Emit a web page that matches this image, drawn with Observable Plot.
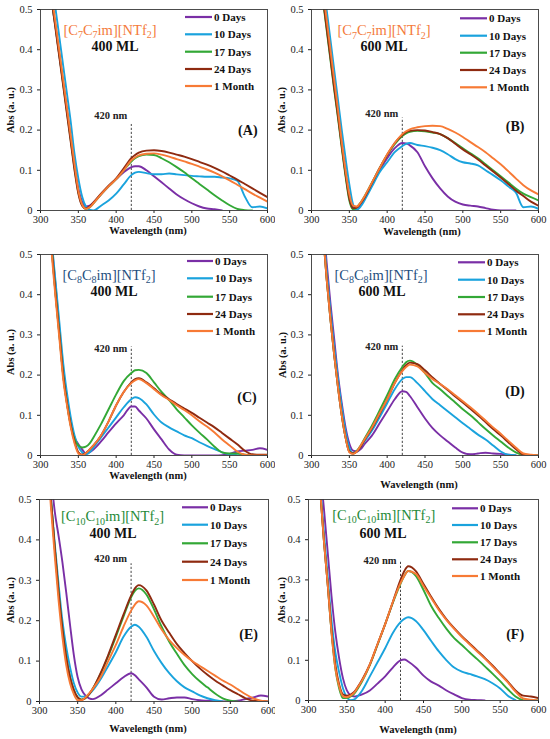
<!DOCTYPE html>
<html><head><meta charset="utf-8">
<script src="https://cdn.jsdelivr.net/npm/d3@7"></script>
<script src="https://cdn.jsdelivr.net/npm/@observablehq/plot@0.6"></script>
<style>
body{margin:0;background:#fff;}
#wrap{position:relative;width:550px;height:739px;overflow:hidden;}
.panel{position:absolute;}
</style></head><body><div id="wrap"></div>
<script>
// ---------- data ----------
const wl = [310,315,320,325,330,335,340,345,350,355,360,365,370,380,390,400,410,420,425,430,440,450,460,470,480,490,500,510,520,530,540,550,560,570,580,590,600];
const seriesNames = ["0 Days","10 Days","17 Days","24 Days","1 Month"];
const xTicks = [300,350,400,450,500,550,600];
const yTicks = [0,0.1,0.2,0.3,0.4,0.5];

// Panel A: [C7C7im][NTf2] 400 ML
const A_d0 = [0.6,0.52,0.455,0.385,0.318,0.25,0.18,0.112,0.055,0.022,0.01,0.012,0.02, 0.04,0.06,0.078,0.095,0.108, 0.11,0.11, 0.1,0.085,0.07,0.055,0.04,0.028,0.018,0.01,0.005,0.003,0,null,null,null,null,null,null];
const A_d10 = [0.65,0.56,0.5,0.43,0.36,0.29,0.22,0.14,0.08,0.035,0.01,0.002,0, 0.012,0.025,0.042,0.065,0.088, 0.094,0.096, 0.093,0.09,0.09,0.092,0.09,0.088,0.086,0.085,0.084,0.084,0.082,0.08,0.074,0.035,0.008,0.01,0.005];
const A_d17 = [0.6,0.52,0.455,0.385,0.315,0.245,0.175,0.105,0.045,0.014,0.004,0.008,0.018, 0.04,0.06,0.078,0.1,0.122, 0.13,0.135, 0.139,0.138,0.13,0.12,0.108,0.095,0.08,0.066,0.052,0.038,0.025,0.013,0.004,0.001,0,null,null];
const A_d24 = [0.6,0.52,0.45,0.38,0.31,0.24,0.17,0.1,0.042,0.012,0.005,0.01,0.02, 0.042,0.062,0.08,0.105,0.13, 0.138,0.144, 0.149,0.15,0.148,0.144,0.139,0.134,0.128,0.121,0.114,0.106,0.097,0.087,0.077,0.066,0.055,0.044,0.033];
const A_m1 = [0.62,0.535,0.465,0.395,0.325,0.255,0.185,0.115,0.05,0.015,0.004,0.008,0.018, 0.04,0.06,0.078,0.1,0.125, 0.132,0.137, 0.141,0.142,0.139,0.134,0.128,0.122,0.116,0.109,0.102,0.094,0.085,0.075,0.064,0.053,0.042,0.032,0.022];

// Panel B: [C7C7im][NTf2] 600 ML
const B_d0 = [0.6,0.53,0.46,0.385,0.31,0.24,0.165,0.095,0.035,0.01,0.006,0.015,0.03, 0.065,0.1,0.13,0.155,0.168, 0.167,0.162, 0.145,0.11,0.08,0.055,0.035,0.022,0.015,0.012,0.01,0.006,0.002,0,0,0,null,null,null];
const B_d10 = [0.65,0.57,0.5,0.425,0.35,0.275,0.2,0.13,0.065,0.015,0.002,0.01,0.025, 0.06,0.095,0.12,0.145,0.16, 0.166,0.168, 0.163,0.16,0.156,0.15,0.14,0.128,0.12,0.117,0.112,0.1,0.088,0.075,0.06,0.045,0.008,0.01,0.004];
const B_d17 = [0.6,0.525,0.45,0.375,0.3,0.23,0.155,0.085,0.025,0.003,0.008,0.02,0.035, 0.07,0.105,0.138,0.165,0.185, 0.192,0.196, 0.198,0.197,0.194,0.19,0.18,0.168,0.155,0.142,0.13,0.115,0.1,0.085,0.07,0.055,0.042,0.033,0.025];
const B_d24 = [0.61,0.53,0.455,0.38,0.305,0.235,0.16,0.09,0.03,0.006,0.008,0.018,0.032, 0.068,0.105,0.138,0.168,0.188, 0.195,0.198, 0.2,0.199,0.195,0.19,0.18,0.166,0.152,0.14,0.127,0.112,0.097,0.082,0.066,0.05,0.036,0.022,0.012];
const B_m1 = [0.63,0.55,0.475,0.4,0.325,0.25,0.17,0.1,0.04,0.012,0.01,0.02,0.035, 0.07,0.105,0.14,0.168,0.19, 0.197,0.202, 0.207,0.21,0.211,0.21,0.203,0.194,0.183,0.17,0.158,0.145,0.13,0.115,0.098,0.08,0.063,0.05,0.04];

// Panel C: [C8C8im][NTf2] 400 ML
const C_d0 = [0.62,0.52,0.42,0.31,0.21,0.14,0.08,0.045,0.028,0.015,0.005,0.008,0.015, 0.035,0.058,0.08,0.1,0.122, 0.122,0.112, 0.092,0.065,0.04,0.015,0.002,0,0,0,0,0,0.001,0.004,0.01,0.012,0.014,0.018,0.014];
const C_d10 = [0.64,0.53,0.43,0.33,0.23,0.155,0.095,0.05,0.022,0.008,0.003,0.008,0.02, 0.045,0.07,0.095,0.12,0.14, 0.145,0.143, 0.127,0.102,0.082,0.07,0.06,0.05,0.043,0.033,0.024,0.016,0.008,0.003,0.001,0,null,null,null];
const C_d17 = [0.64,0.51,0.4,0.3,0.2,0.13,0.075,0.04,0.025,0.02,0.022,0.03,0.045, 0.078,0.115,0.152,0.185,0.205, 0.212,0.213, 0.205,0.182,0.158,0.138,0.115,0.095,0.075,0.057,0.04,0.022,0.008,0.005,0.005,0.002,0,null,null];
const C_d24 = [0.64,0.51,0.4,0.3,0.2,0.13,0.075,0.035,0.008,0.002,0.006,0.015,0.025, 0.05,0.085,0.125,0.158,0.182, 0.19,0.192, 0.182,0.167,0.152,0.14,0.128,0.117,0.106,0.094,0.082,0.07,0.056,0.042,0.028,0.012,0.003,0.002,0.002];
const C_m1 = [0.65,0.5,0.39,0.29,0.19,0.125,0.07,0.03,0.005,0.001,0.006,0.015,0.025, 0.05,0.085,0.125,0.158,0.18, 0.187,0.19, 0.18,0.165,0.15,0.138,0.125,0.113,0.1,0.085,0.072,0.057,0.04,0.025,0.01,0.002,0,0,0];

// Panel D: [C8C8im][NTf2] 600 ML
const D_d0 = [0.72,0.6,0.48,0.38,0.29,0.2,0.13,0.07,0.03,0.012,0.01,0.016,0.028, 0.05,0.08,0.11,0.14,0.16, 0.158,0.148, 0.12,0.092,0.068,0.05,0.035,0.02,0.007,0.003,0.005,0.007,0.005,0.004,0.002,0,null,null,null];
const D_d10 = [0.72,0.58,0.46,0.36,0.27,0.19,0.12,0.06,0.02,0.006,0.01,0.022,0.035, 0.062,0.095,0.13,0.165,0.19, 0.195,0.195, 0.18,0.16,0.14,0.125,0.11,0.095,0.08,0.066,0.052,0.04,0.025,0.01,0.002,0.001,null,null,null];
const D_d17 = [0.7,0.56,0.44,0.34,0.25,0.17,0.1,0.045,0.01,0.005,0.012,0.025,0.042, 0.075,0.112,0.15,0.19,0.22, 0.232,0.236, 0.226,0.205,0.18,0.165,0.148,0.132,0.115,0.1,0.083,0.066,0.05,0.035,0.02,0.008,0.001,0,0];
const D_d24 = [0.7,0.56,0.44,0.34,0.25,0.17,0.1,0.045,0.01,0.005,0.01,0.022,0.038, 0.068,0.103,0.14,0.18,0.212, 0.225,0.231, 0.227,0.212,0.194,0.178,0.163,0.147,0.132,0.116,0.1,0.083,0.066,0.05,0.033,0.016,0.002,0,0];
const D_m1 = [0.7,0.56,0.44,0.34,0.25,0.17,0.1,0.045,0.008,0.004,0.01,0.025,0.04, 0.07,0.105,0.14,0.18,0.21, 0.22,0.226, 0.222,0.205,0.19,0.178,0.165,0.15,0.135,0.12,0.104,0.087,0.07,0.054,0.037,0.02,0.005,0.002,0];

// Panel E: [C10C10im][NTf2] 400 ML
const E_d0 = [0.66,0.56,0.47,0.41,0.345,0.27,0.19,0.115,0.06,0.03,0.015,0.008,0.006, 0.015,0.03,0.045,0.06,0.07, 0.065,0.055, 0.035,0.012,0.005,0.008,0.01,0.01,0.006,0.003,0.002,0.001,0,0,0.002,0.006,0.01,0.015,0.012];
const E_d10 = [0.62,0.5,0.39,0.29,0.2,0.135,0.085,0.045,0.022,0.012,0.012,0.018,0.028, 0.055,0.088,0.122,0.16,0.185, 0.19,0.185, 0.16,0.125,0.095,0.07,0.05,0.035,0.025,0.015,0.008,0.003,0,null,null,null,null,null,null];
const E_d17 = [0.6,0.5,0.38,0.27,0.18,0.11,0.06,0.028,0.01,0.005,0.008,0.018,0.032, 0.068,0.112,0.16,0.21,0.258, 0.274,0.28, 0.265,0.228,0.185,0.148,0.118,0.09,0.068,0.05,0.035,0.02,0.008,0.002,0,null,null,null,null];
const E_d24 = [0.6,0.5,0.38,0.27,0.18,0.11,0.06,0.028,0.01,0.004,0.008,0.018,0.032, 0.07,0.115,0.165,0.215,0.262, 0.28,0.288, 0.275,0.24,0.2,0.17,0.142,0.12,0.1,0.082,0.066,0.052,0.04,0.028,0.018,0.008,0.002,0.001,0];
const E_m1 = [0.62,0.48,0.36,0.25,0.16,0.09,0.045,0.018,0.003,0.003,0.01,0.02,0.032, 0.06,0.1,0.14,0.185,0.225, 0.24,0.248, 0.238,0.21,0.178,0.152,0.132,0.115,0.1,0.088,0.076,0.064,0.052,0.042,0.03,0.018,0.008,0.002,0];

// Panel F: [C10C10im][NTf2] 600 ML
const F_d0 = [0.7,0.58,0.48,0.37,0.26,0.17,0.105,0.055,0.025,0.013,0.01,0.012,0.015, 0.025,0.042,0.06,0.082,0.1, 0.102,0.097, 0.082,0.062,0.047,0.037,0.025,0.015,0.006,0.002,0.001,0,null,null,null,null,null,null,null];
const F_d10 = [0.66,0.54,0.42,0.31,0.2,0.12,0.07,0.03,0.008,0.001,0.003,0.012,0.025, 0.06,0.095,0.13,0.168,0.195, 0.203,0.207, 0.198,0.175,0.148,0.122,0.1,0.082,0.072,0.066,0.06,0.053,0.043,0.03,0.012,0.001,null,null,null];
const F_d17 = [0.65,0.53,0.4,0.29,0.17,0.08,0.03,0.006,0.006,0.01,0.018,0.032,0.048, 0.088,0.138,0.19,0.243,0.29, 0.31,0.322, 0.31,0.275,0.235,0.205,0.178,0.155,0.138,0.12,0.103,0.085,0.067,0.048,0.028,0.01,0.001,0,0];
const F_d24 = [0.65,0.53,0.4,0.29,0.175,0.09,0.04,0.015,0.012,0.015,0.022,0.036,0.052, 0.09,0.14,0.19,0.245,0.3, 0.322,0.334, 0.322,0.29,0.258,0.228,0.202,0.18,0.16,0.142,0.124,0.106,0.087,0.067,0.047,0.025,0.012,0.01,0.006];
const F_m1 = [0.65,0.53,0.4,0.29,0.17,0.08,0.035,0.01,0.008,0.012,0.02,0.035,0.05, 0.09,0.14,0.19,0.245,0.292, 0.31,0.322, 0.315,0.285,0.255,0.225,0.2,0.178,0.158,0.14,0.122,0.104,0.085,0.065,0.045,0.022,0.005,0.002,0];

// titles (text parts, subscript flag)
const titleC7 = [["[C",0],["7",1],["C",0],["7",1],["im][NTf",0],["2",1],["]",0]];
const titleC8 = [["[C",0],["8",1],["C",0],["8",1],["im][NTf",0],["2",1],["]",0]];
const titleC10 = [["[C",0],["10",1],["C",0],["10",1],["im][NTf",0],["2",1],["]",0]];
const loadings = ["400 ML","600 ML"];
const tags = ["(A)","(B)","(C)","(D)","(E)","(F)"];

// ---------- styles / layout ----------
const lineColors = ["#7A2FA6","#1AA3DD","#33A836","#8E2A10","#F77A35"];
const FONT = "'Liberation Serif', 'Times New Roman', serif";

const panels = [
  {id:"A", left:0, top:0, h:245, ml:40, mr:8, mt:9, mb:35, data:[A_d0,A_d10,A_d17,A_d24,A_m1], title:titleC7, tcol:"#F47B3B", load:loadings[0],
   tx:110, ty:29.5, lx:115, ly:46, dashTop:0.214, nmY:0.237, tag:tags[0], tagX:574, tagY:0.2,
   leg:{x1:185, x2:212, tx:214, ys:[17,34.3,51.7,69,86]}, xlab:{x:148, y:230}, ylab:{x:10, y:110}},
  {id:"B", left:275, top:0, h:245, ml:36, mr:12, mt:9, mb:35, data:[B_d0,B_d10,B_d17,B_d24,B_m1], title:titleC7, tcol:"#F47B3B", load:loadings[1],
   tx:109, ty:30, lx:109, ly:46, dashTop:0.23, nmY:0.241, tag:tags[1], tagX:569, tagY:0.208,
   leg:{x1:185, x2:212, tx:214, ys:[18.3,35.7,52.7,70,87.3]}, xlab:{x:147, y:231}, ylab:{x:6, y:110}},
  {id:"C", left:0, top:245, h:245, ml:40, mr:8, mt:9, mb:35, data:[C_d0,C_d10,C_d17,C_d24,C_m1], title:titleC8, tcol:"#1F5080", load:loadings[0],
   tx:109, ty:29.5, lx:114, ly:46, dashTop:0.27, nmY:0.266, tag:tags[2], tagX:573, tagY:0.145,
   leg:{x1:187, x2:213, tx:215, ys:[16,33.3,51.7,69,86]}, xlab:{x:148, y:230}, ylab:{x:10, y:107}},
  {id:"D", left:275, top:245, h:245, ml:36, mr:12, mt:9, mb:35, data:[D_d0,D_d10,D_d17,D_d24,D_m1], title:titleC8, tcol:"#1F5080", load:loadings[1],
   tx:106, ty:29.5, lx:107, ly:46, dashTop:0.272, nmY:0.27, tag:tags[3], tagX:569, tagY:0.158,
   leg:{x1:183, x2:210, tx:212, ys:[17.3,34.7,52,69.3,86]}, xlab:{x:144, y:239}, ylab:{x:7, y:110}},
  {id:"E", left:0, top:490, h:249, ml:39, mr:7, mt:9, mb:38, data:[E_d0,E_d10,E_d17,E_d24,E_m1], title:titleC10, tcol:"#258A38", load:loadings[0],
   tx:112.5, ty:26, lx:113, ly:42.5, dashTop:0.341, nmY:0.353, tag:tags[4], tagX:574, tagY:0.166,
   leg:{x1:182, x2:208, tx:210, ys:[17.3,34.7,53.3,71.7,90]}, xlab:{x:148, y:238}, ylab:{x:10.7, y:110}},
  {id:"F", left:275, top:490, h:249, ml:33, mr:12, mt:9, mb:39, data:[F_d0,F_d10,F_d17,F_d24,F_m1], title:titleC10, tcol:"#258A38", load:loadings[1],
   tx:108.7, ty:24.5, lx:108, ly:42.5, dashTop:0.345, nmY:0.349, tag:tags[5], tagX:569.5, tagY:0.163,
   leg:{x1:177, x2:203, tx:205, ys:[18.3,35,52.3,69.3,86]}, xlab:{x:143, y:239}, ylab:{x:6, y:110}}
];

const wrap = document.getElementById("wrap");

for (const p of panels) {
  const rows = [];
  p.data.forEach((vals, i) => vals.forEach((v, j) => { if (v != null) rows.push({wl: wl[j], abs: v, s: seriesNames[i]}); }));

  const svg = Plot.plot({
    width: 275, height: p.h,
    marginLeft: p.ml, marginRight: p.mr, marginTop: p.mt, marginBottom: p.mb,
    style: {fontFamily: FONT, fontSize: "10.5px", color: "#222", background: "white", overflow: "visible"},
    x: {domain: [300, 600], ticks: xTicks, tickSize: 3, tickPadding: 2, label: null},
    y: {domain: [0, 0.5], ticks: yTicks, tickSize: 3, tickPadding: 5, label: null,
        tickFormat: d => d === 0 ? "0" : d.toFixed(1)},
    color: {domain: seriesNames, range: lineColors},
    marks: [
      Plot.ruleX([420], {y1: 0, y2: p.dashTop, stroke: "#333", strokeWidth: 0.9, strokeDasharray: "2.2,1.8"}),
      Plot.line(rows, {x: "wl", y: "abs", z: "s", stroke: "s", strokeWidth: 1.9, curve: "monotone-x", clip: true}),
      Plot.frame({stroke: "#3a3a3a", strokeWidth: 0.9}),
      Plot.text([p.nmY], {x: () => 420, y: d => d, text: () => "420 nm", textAnchor: "end", dx: -4,
        fontWeight: "bold", fontSize: 10.5, fill: "#222"}),
      Plot.text([p.tag], {x: () => p.tagX, y: () => p.tagY, text: d => d, fontWeight: "bold", fontSize: 14, fill: "#111"})
    ]
  });

  const s = d3.select(svg);
  s.selectAll("text").style("font-family", FONT);

  // title with subscripts
  const t = s.append("text").attr("x", p.tx).attr("y", p.ty + 5).attr("text-anchor", "middle")
    .attr("fill", p.tcol).attr("font-size", 14.5).style("font-family", FONT);
  let prevSub = false;
  for (const [str, sub] of p.title) {
    const ts = t.append("tspan").text(str);
    if (sub) { ts.attr("font-size", 10).attr("dy", prevSub ? 0 : 3.5); }
    else { ts.attr("dy", prevSub ? -3.5 : 0); }
    prevSub = !!sub;
  }
  s.append("text").attr("x", p.lx).attr("y", p.ly + 5).attr("text-anchor", "middle")
    .attr("fill", "#111").attr("font-size", 14).attr("font-weight", "bold").style("font-family", FONT).text(p.load);

  // legend
  const lg = s.append("g").attr("text-anchor", "start");
  seriesNames.forEach((name, i) => {
    const y = p.leg.ys[i];
    lg.append("line").attr("x1", p.leg.x1).attr("x2", p.leg.x2).attr("y1", y).attr("y2", y)
      .attr("stroke", lineColors[i]).attr("stroke-width", 2.2);
    lg.append("text").attr("x", p.leg.tx).attr("y", y + 3.8).attr("text-anchor", "start")
      .attr("font-size", 11).attr("font-weight", "bold")
      .attr("fill", "#111").style("font-family", FONT).text(name);
  });

  // axis labels
  s.append("text").attr("x", p.xlab.x).attr("y", p.xlab.y + 3.5).attr("text-anchor", "middle")
    .attr("font-size", 10.5).attr("font-weight", "bold").attr("fill", "#111").style("font-family", FONT)
    .text("Wavelength (nm)");
  s.append("text").attr("transform", `translate(${p.ylab.x + 3.5},${p.ylab.y}) rotate(-90)`).attr("text-anchor", "middle")
    .attr("font-size", 10.5).attr("font-weight", "bold").attr("fill", "#111").style("font-family", FONT)
    .text("Abs (a. u.)");

  const div = document.createElement("div");
  div.className = "panel";
  div.style.left = p.left + "px";
  div.style.top = p.top + "px";
  div.appendChild(svg);
  wrap.appendChild(div);
}
</script>
</body></html>
